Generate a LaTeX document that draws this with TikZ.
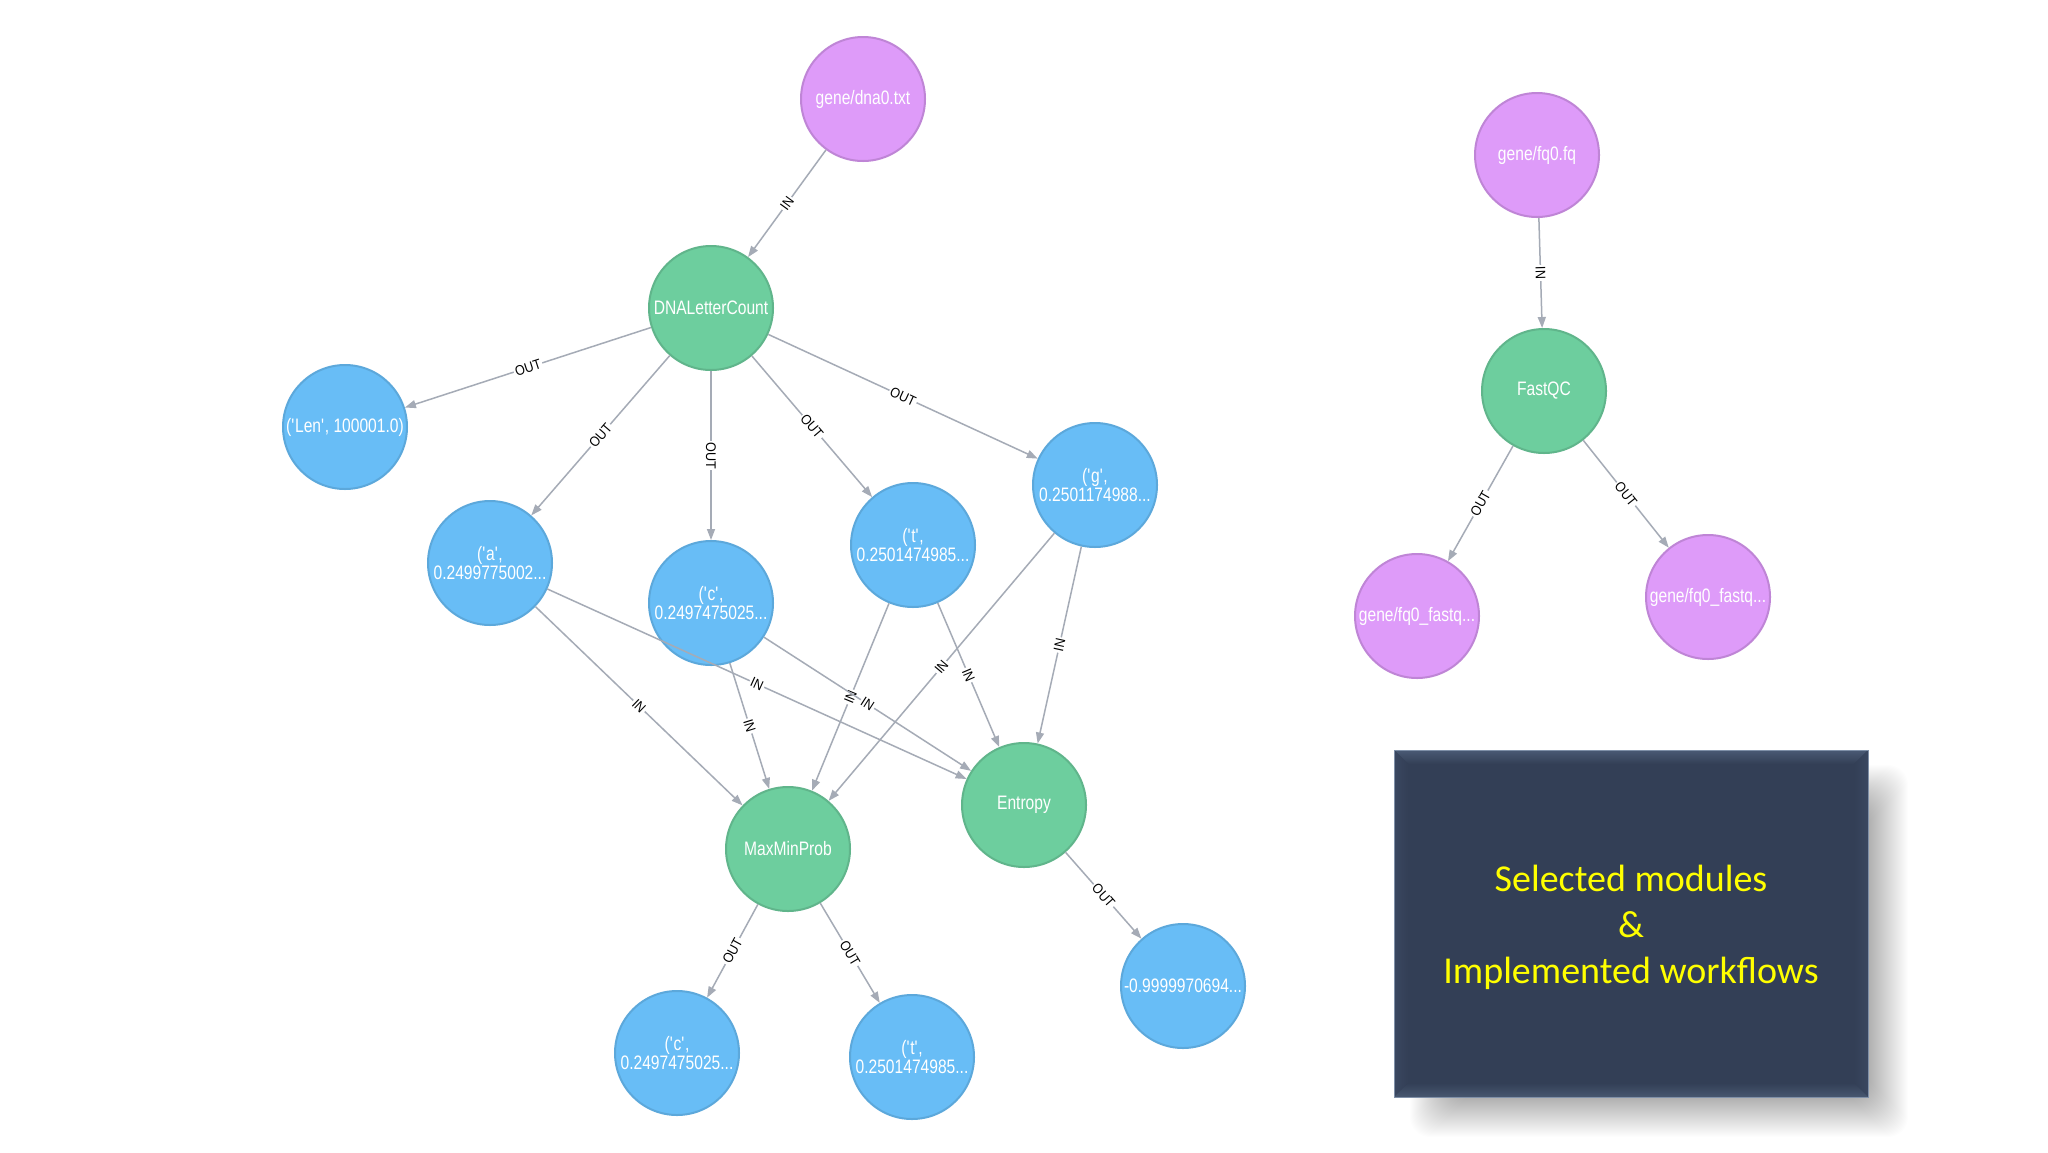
\documentclass[tikz,border=0pt]{standalone}
\usepackage{fontspec}
\setmainfont{Liberation Sans}
\newfontfamily\nfont{Liberation Sans}[FakeStretch=0.8]
\newfontfamily\lfont{Liberation Sans}[FakeStretch=0.9]
\newfontfamily\bfont{Carlito}
\usetikzlibrary{arrows.meta}
\definecolor{blueN}{HTML}{68BDF6}
\definecolor{blueB}{HTML}{5CA8DB}
\definecolor{greenN}{HTML}{6DCE9E}
\definecolor{greenB}{HTML}{60B58B}
\definecolor{purpN}{HTML}{DE9BF9}
\definecolor{purpB}{HTML}{BF85D6}
\definecolor{edgeC}{HTML}{A5ABB6}
\definecolor{boxC}{HTML}{333F56}
\definecolor{bevT}{HTML}{4A5A74}
\definecolor{bevS}{HTML}{3A4760}
\definecolor{bevB}{HTML}{475770}
\definecolor{rimC}{HTML}{7F90A8}
\definecolor{ylw}{HTML}{FFFF00}
\newcommand\myq{\textquotesingle}
\begin{document}
\begin{tikzpicture}[x=1pt,y=-1pt,
  basenode/.style={circle, minimum size=124pt, inner sep=0pt, line width=2pt,
    text=white, font=\nfont\fontsize{19.5}{15.5}\selectfont, align=center},
  bnode/.style={basenode, fill=blueN, draw=blueB},
  gnode/.style={basenode, fill=greenN, draw=greenB},
  pnode/.style={basenode, fill=purpN, draw=purpB},
  edgeS/.style={draw=edgeC, line width=1.5pt, -{Triangle[length=11pt,width=8pt]}},
  lbl/.style={midway, sloped, fill=white, inner sep=1.5pt, text=black,
    font=\lfont\fontsize{14}{14}\selectfont},
  boxtext/.style={font=\bfont\fontsize{38}{46}\selectfont, text=ylw, align=center}
]
\useasboundingbox (0,0) rectangle (2048,1152);
\fill[white] (0,0) rectangle (2048,1152);

% ---- left workflow nodes
\node[pnode] (dna) at (863,99) {gene/dna0.txt};
\node[gnode] (dlc) at (711,308) {DNALetterCount};
\node[bnode] (len) at (345,427) {(\myq Len\myq, 100001.0)};
\node[bnode] (a) at (490,563) {(\myq a\myq,\\0.2499775002...};
\node[bnode] (c1) at (711,603) {(\myq c\myq,\\0.2497475025...};
\node[bnode] (t1) at (913,545) {(\myq t\myq,\\0.2501474985...};
\node[bnode] (g) at (1095,485) {(\myq g\myq,\\0.2501174988...};
\node[gnode] (mmp) at (788,849) {MaxMinProb};
\node[gnode] (ent) at (1024,805) {Entropy};
\node[bnode] (c2) at (677,1053) {(\myq c\myq,\\0.2497475025...};
\node[bnode] (t2) at (912,1057) {(\myq t\myq,\\0.2501474985...};
\node[bnode] (neg) at (1183,986) {-0.9999970694...};

% ---- right workflow nodes
\node[pnode] (fq) at (1537,155) {gene/fq0.fq};
\node[gnode] (fqc) at (1544,391) {FastQC};
\node[pnode] (fl) at (1417,616) {gene/fq0\_fastq...};
\node[pnode] (fr) at (1708,597) {gene/fq0\_fastq...};

% ---- edges
\path[edgeS] (dna) -- node[lbl]{IN} (dlc);
\path[edgeS] (dlc) -- node[lbl]{OUT} (len);
\path[edgeS] (dlc) -- node[lbl]{OUT} (a);
\path[edgeS] (dlc) -- node[lbl]{OUT} (c1);
\path[edgeS] (dlc) -- node[lbl]{OUT} (t1);
\path[edgeS] (dlc) -- node[lbl]{OUT} (g);
\path[edgeS] (a) -- node[lbl]{IN} (mmp);
\path[edgeS] (a) -- node[lbl]{IN} (ent);
\path[edgeS] (c1) -- node[lbl]{IN} (mmp);
\path[edgeS] (t1) -- node[lbl]{IN} (mmp);
\path[edgeS] (c1) -- node[lbl]{IN} (ent);
\path[edgeS] (t1) -- node[lbl]{IN} (ent);
\path[edgeS] (g) -- node[lbl]{IN} (mmp);
\path[edgeS] (g) -- node[lbl]{IN} (ent);
\path[edgeS] (mmp) -- node[lbl]{OUT} (c2);
\path[edgeS] (mmp) -- node[lbl]{OUT} (t2);
\path[edgeS] (ent) -- node[lbl]{OUT} (neg);
\path[edgeS] (fq) -- node[lbl]{IN} (fqc);
\path[edgeS] (fqc) -- node[lbl]{OUT} (fl);
\path[edgeS] (fqc) -- node[lbl]{OUT} (fr);

% ---- text box with soft shadow and bevel
\foreach \k in {0,...,40}{
  \fill[black, opacity=0.009, rounded corners=20pt]
    (1410+\k,765+\k) rectangle (1908-\k,1137-\k);
}
\fill[boxC] (1394,750) rectangle (1868,1097);
\shade[top color=bevT, bottom color=boxC] (1394,750) -- (1868,750) -- (1854,764) -- (1408,764) -- cycle;
\shade[left color=bevS, right color=boxC] (1394,750) -- (1408,764) -- (1408,1083) -- (1394,1097) -- cycle;
\shade[left color=boxC, right color=bevS] (1868,750) -- (1868,1097) -- (1854,1083) -- (1854,764) -- cycle;
\shade[top color=boxC, bottom color=bevB] (1394,1097) -- (1868,1097) -- (1854,1083) -- (1408,1083) -- cycle;
\draw[rimC, line width=1pt] (1394,750) rectangle (1868,1097);
\node[boxtext] (box) at (1631,927) {Selected modules\\\&\\Implemented workflows};
\end{tikzpicture}
\end{document}
